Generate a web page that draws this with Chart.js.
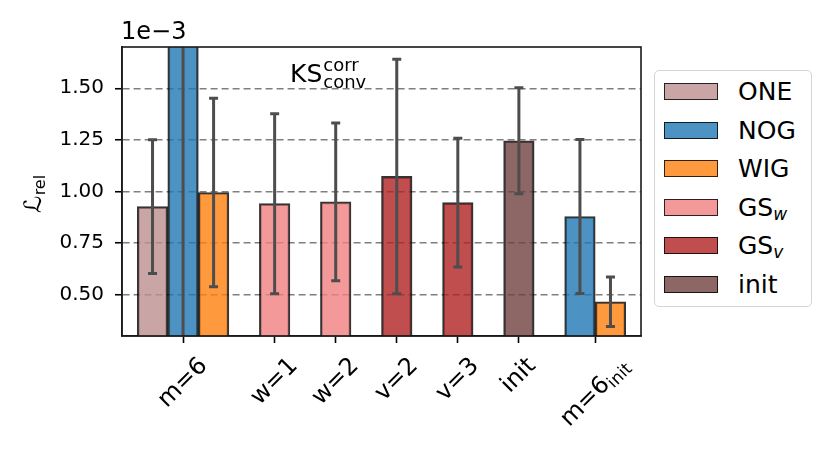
<!DOCTYPE html>
<html>
<head>
<meta charset="utf-8">
<script src="https://cdn.jsdelivr.net/npm/chart.js@4/dist/chart.umd.min.js"></script>
<style>
  html, body { margin:0; padding:0; background:#fff; }
  #wrap { position:relative; width:831px; height:461px; font-family:"DejaVu Sans", sans-serif; }
  #legend { position:absolute; left:654px; top:70px; width:158px; height:237px; box-sizing:border-box;
            border:1.3px solid #d5d5d5; border-radius:5px; background:#fff; }
  .row { position:absolute; left:9px; height:18px; }
  .patch { position:absolute; left:0; top:0; width:52px; height:15px; border:1.8px solid rgba(0,0,0,0.8); }
  .lbl { position:absolute; left:74px; top:-1px; font-size:25px; line-height:20px; color:#000; white-space:nowrap; }
  .lbl sub { font-size:17px; font-style:italic; vertical-align:-4px; line-height:0; }
</style>
</head>
<body>
<div id="wrap">
  <canvas id="c" width="831" height="461"></canvas>
  <div id="legend"></div>
</div>
<script>
// values are in units of 1e-3
const tickPos = [0, 1.5, 2.5, 3.5, 4.5, 5.5, 6.75];
const tickLabels = ["m=6", "w=1", "w=2", "v=2", "v=3", "init", "m=6"];
const tickSubs = ["", "", "", "", "", "", "init"];
const yTicks = [0.50, 0.75, 1.00, 1.25, 1.50];

const names = ["ONE", "NOG", "WIG", "GS|w", "GS|v", "init"];
const colors = ["#bc8f8f", "#1f77b4", "#ff7f0e", "#f08080", "#b22222", "#704040"];

const onePos = [-0.5],      oneVal = [0.927],        oneErr = [0.324];
const nogPos = [0, 6.5],    nogVal = [2.2, 0.879],   nogErr = [2.0, 0.373];
const wigPos = [0.5, 7.0],  wigVal = [0.995, 0.466], wigErr = [0.457, 0.12];
const gswPos = [1.5, 2.5],  gswVal = [0.941, 0.950], gswErr = [0.436, 0.382];
const gsvPos = [3.5, 4.5],  gsvVal = [1.073, 0.946], gsvErr = [0.568, 0.312];
const initPos = [5.5],      initVal = [1.246],       initErr = [0.257];

const allPos = [onePos, nogPos, wigPos, gswPos, gsvPos, initPos];
const allVal = [oneVal, nogVal, wigVal, gswVal, gsvVal, initVal];
const allErr = [oneErr, nogErr, wigErr, gswErr, gsvErr, initErr];

function alpha(hex, a){
  const n = parseInt(hex.slice(1), 16);
  return `rgba(${n>>16},${(n>>8)&255},${n&255},${a})`;
}

const datasets = names.map((n, i) => ({
  label: n,
  data: allPos[i].map((x, j) => ({ x: x, y: allVal[i][j] })),
  errs: allErr[i],
  backgroundColor: alpha(colors[i], 0.8),
  borderColor: "rgba(0,0,0,0.8)",
  borderWidth: 2,
  borderSkipped: false,
  grouped: false,
  barPercentage: 1,
  categoryPercentage: 1
}));

const FONT = '"DejaVu Sans", sans-serif';

const decor = {
  id: "decor",
  afterDraw(chart){
    const {ctx, chartArea: a, scales:{x, y}} = chart;
    // error bars
    ctx.save();
    ctx.beginPath();
    ctx.rect(a.left, a.top, a.right - a.left, a.bottom - a.top);
    ctx.clip();
    ctx.strokeStyle = "#4d4d4d";
    ctx.lineWidth = 3;
    chart.data.datasets.forEach((ds, i) => {
      const meta = chart.getDatasetMeta(i);
      ds.data.forEach((d, j) => {
        const px = meta.data[j].x;
        const hi = y.getPixelForValue(d.y + ds.errs[j]);
        const lo = y.getPixelForValue(d.y - ds.errs[j]);
        ctx.beginPath();
        ctx.moveTo(px, hi); ctx.lineTo(px, lo);
        ctx.moveTo(px - 4.5, hi); ctx.lineTo(px + 4.5, hi);
        ctx.moveTo(px - 4.5, lo); ctx.lineTo(px + 4.5, lo);
        ctx.stroke();
      });
    });
    ctx.restore();

    // axes frame
    ctx.save();
    ctx.strokeStyle = "#1a1a1a";
    ctx.lineWidth = 1.6;
    ctx.strokeRect(a.left, a.top, a.right - a.left, a.bottom - a.top);
    ctx.restore();

    ctx.save();
    ctx.fillStyle = "#000";
    // x tick labels, rotated 45
    tickPos.forEach((p, i) => {
      const px = x.getPixelForValue(p);
      ctx.font = `24px ${FONT}`;
      const w1 = ctx.measureText(tickLabels[i]).width;
      ctx.font = `17px ${FONT}`;
      const w2 = tickSubs[i] ? ctx.measureText(tickSubs[i]).width : 0;
      const w = w1 + w2, h = 18;
      const half = (w + h) / Math.SQRT2 / 2;
      ctx.save();
      ctx.translate(px, a.bottom + 20 + half);
      ctx.rotate(-Math.PI / 4);
      ctx.textBaseline = "middle";
      ctx.textAlign = "left";
      ctx.font = `24px ${FONT}`;
      ctx.fillText(tickLabels[i], -w / 2, 0);
      if (tickSubs[i]) {
        ctx.font = `17px ${FONT}`;
        ctx.fillText(tickSubs[i], -w / 2 + w1, 6);
      }
      ctx.restore();
    });

    // offset text
    ctx.font = `24px ${FONT}`;
    ctx.textAlign = "left";
    ctx.textBaseline = "alphabetic";
    ctx.fillText("1e\u22123", a.left - 1, a.top - 8);

    // in-plot label
    ctx.font = `25px ${FONT}`;
    ctx.fillText("KS", a.left + 168, a.top + 35);
    const kw = ctx.measureText("KS").width;
    ctx.font = `18px ${FONT}`;
    ctx.fillText("corr", a.left + 168 + kw + 1, a.top + 24);
    ctx.fillText("conv", a.left + 168 + kw + 1, a.top + 41);

    // y axis label
    ctx.save();
    ctx.translate(41, 192);
    ctx.rotate(-Math.PI / 2);
    ctx.textAlign = "left";
    ctx.font = `italic 24px ${FONT}`;
    const lw = ctx.measureText("\u2112").width;
    ctx.fillText("\u2112", -(lw + 24) / 2, 0);
    ctx.font = `16px ${FONT}`;
    ctx.fillText("rel", -(lw + 24) / 2 + lw, 4);
    ctx.restore();
    ctx.restore();
  }
};

new Chart(document.getElementById("c").getContext("2d"), {
  type: "bar",
  data: { datasets: datasets },
  options: {
    responsive: false,
    animation: false,
    events: [],
    layout: { padding: { top: 47, right: 190, left: 0, bottom: 0 } },
    plugins: { legend: { display: false }, tooltip: { enabled: false } },
    scales: {
      x: {
        type: "linear",
        min: -1, max: 7.5,
        offset: false,
        afterBuildTicks(s){ s.ticks = tickPos.map(v => ({ value: v })); },
        afterFit(s){ s.height = 125; },
        ticks: { display: false },
        grid: { offset: false, drawOnChartArea: false, color: "#000", tickLength: 7, tickWidth: 1.6 },
        border: { color: "#1a1a1a", width: 1.6 }
      },
      y: {
        min: 0.3, max: 1.7,
        z: 1,
        afterBuildTicks(s){ s.ticks = yTicks.map(v => ({ value: v })); },
        afterFit(s){ s.width = 122; },
        ticks: {
          callback: v => v.toFixed(2),
          color: "#000",
          font: { family: "DejaVu Sans", size: 20 },
          padding: 11
        },
        grid: {
          color: "rgba(0,0,0,0.5)", lineWidth: 1.5, tickColor: "#000", tickLength: 7, tickWidth: 1.6
        },
        border: { color: "#1a1a1a", width: 1.6, dash: [7, 4] }
      }
    }
  },
  plugins: [decor]
});

// legend
const leg = document.getElementById("legend");
names.forEach((n, i) => {
  const [main, sub] = n.split("|");
  const row = document.createElement("div");
  row.className = "row";
  row.style.top = (12 + i * 38.6) + "px";
  row.innerHTML = `<div class="patch" style="background:${alpha(colors[i], 0.8)}"></div>` +
    `<div class="lbl">${main}${sub ? "<sub>" + sub + "</sub>" : ""}</div>`;
  leg.appendChild(row);
});
</script>
</body>
</html>
